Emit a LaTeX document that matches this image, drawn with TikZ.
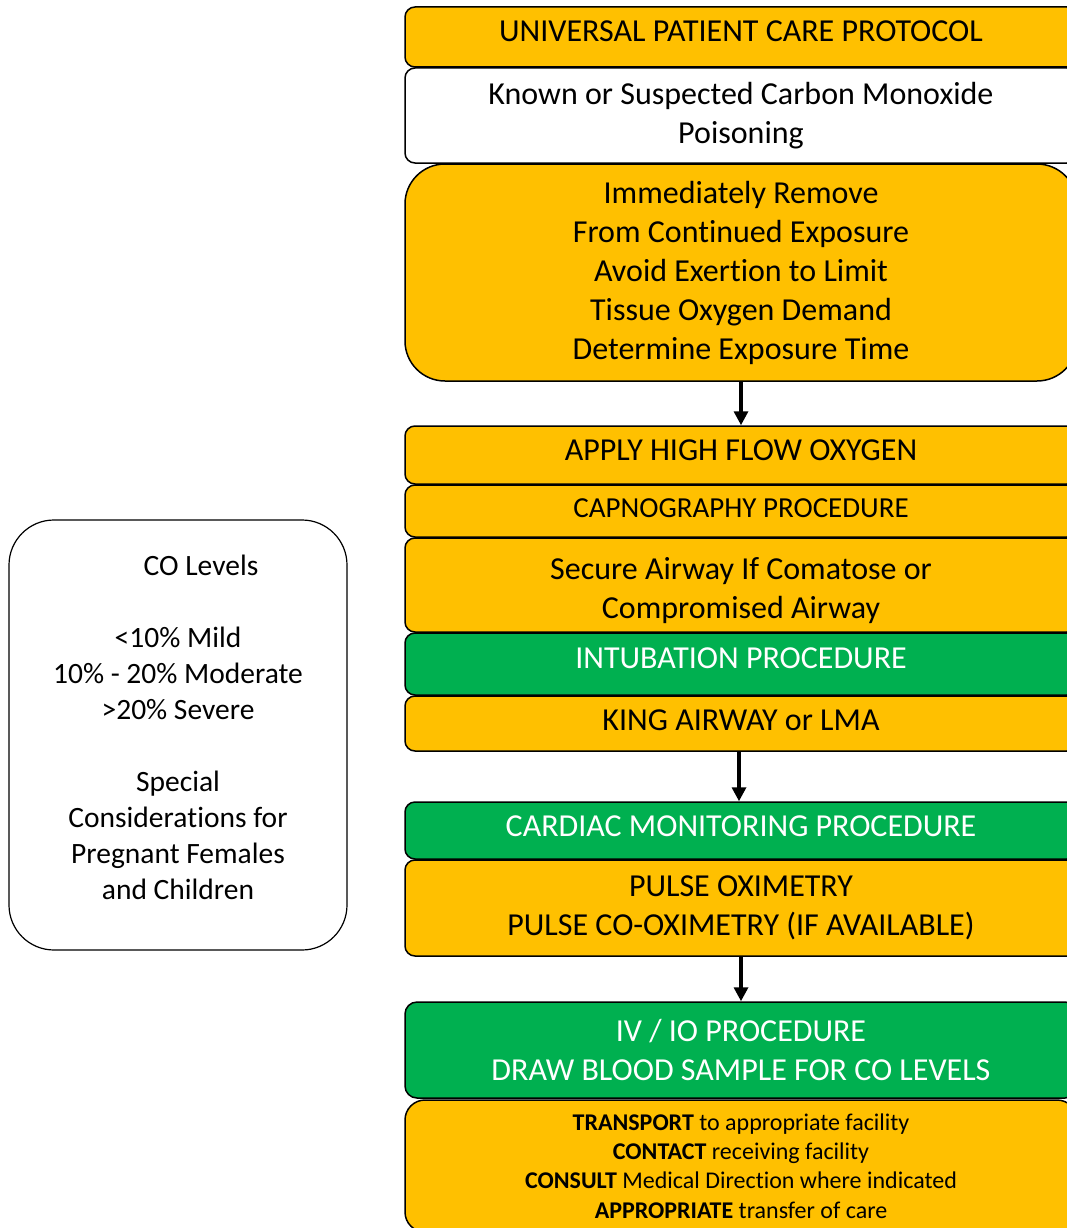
\documentclass[tikz,border=0pt]{standalone}
\usepackage{fontspec}
\setmainfont[RawFeature={-liga;-clig;-rlig;-dlig}]{Carlito}
\usetikzlibrary{arrows.meta}
\definecolor{gold}{HTML}{FFC000}
\definecolor{grn}{HTML}{00B050}
\newcommand{\nl}{\kern0pt }
\tikzset{
  box/.style={draw=black, line width=1.5pt, rounded corners=10pt, minimum width=672pt, align=center, inner sep=0pt, text=black},
  gbox/.style={box, fill=gold},
  wbox/.style={box, fill=white},
  grbox/.style={box, fill=grn, text=white},
  big/.style={font=\fontsize{32}{39}\selectfont},
  mid/.style={font=\fontsize{29}{35}\selectfont},
  small/.style={font=\fontsize{24}{29.3}\selectfont},
  flow/.style={line width=3.3pt, -{Triangle[length=14pt,width=14pt]}},
}
\begin{document}
\begin{tikzpicture}[x=1pt,y=-1pt]
\useasboundingbox (0,0) rectangle (1066,1228);
\node[gbox, big, minimum height=60pt] (upc) at (741,37) {\raisebox{12pt}{UNIVERSAL PATIENT CARE PROTOCOL}};
\node[wbox, big, minimum height=95pt] (known) at (741,115.5) {Known or Suspected Carbon Monoxide\\Poisoning};
\node[gbox, big, minimum height=217pt, rounded corners=40pt] (remove) at (741,272.5) {Immediately Remove\\From Cont\nl inued Exposure\\Avoid Exert\nl ion to Limit\\Tissue Oxygen Demand\\Determine Exposure Time};
\node[gbox, big, minimum height=58pt] (oxy) at (741,455) {\raisebox{10pt}{APPLY HIGH FLOW OXYGEN}};
\node[gbox, mid, minimum height=52pt] (capno) at (741,511) {\raisebox{6pt}{CAPNOGRAPHY PROCEDURE}};
\node[gbox, minimum height=94pt] (secure) at (741,585) {};
\node[big, align=center, inner sep=0pt] (securetext) at (741,591) {Secure Airway If Comatose or\\Compromised Airway};
\node[grbox, big, minimum height=62pt] (intub) at (741,664) {\raisebox{12pt}{INTUBATION PROCEDURE}};
\node[gbox, big, minimum height=55pt] (king) at (741,723.5) {\raisebox{6pt}{KING AIRWAY or LMA}};
\node[grbox, big, minimum height=57pt] (card) at (741,830.5) {\raisebox{8pt}{CARDIAC MONITORING PROCEDURE}};
\node[gbox, big, minimum height=96pt] (pulse) at (741,908) {PULSE OXIMETRY\\PULSE CO-OXIMETRY (IF AVAILABLE)};
\node[grbox, big, minimum height=96pt, rounded corners=12pt] (iv) at (741,1050) {IV / IO PROCEDURE\\DRAW BLOOD SAMPLE FOR CO LEVELS};
\node[gbox, small, minimum height=132pt, rounded corners=20pt] (trans) at (741,1166) {\textbf{TRANSPORT} to appropriate facility\\\textbf{CONTACT} receiving facility\\\textbf{CONSULT} Medical Direction where indicated\\\textbf{APPROPRIATE} transfer of care};
\node[draw=black, line width=1.2pt, rounded corners=45pt, minimum width=338pt, minimum height=430pt] (co) at (178,735) {};
\node[align=center, inner sep=0pt, font=\fontsize{29.5}{36}\selectfont] (cotext) at (178,727) {\hspace*{46pt}CO Levels\\[36pt]<10\% Mild\\10\% - 20\% Moderate\\>20\% Severe\\[36pt]Special\\Considera\nl t\nl ions for\\Pregnant Females\\and Children};
\draw[flow] (remove.south) -- (oxy.north);
\draw[flow] ([xshift=-2pt]king.south) -- ([xshift=-2pt]card.north);
\draw[flow] (pulse.south) -- (iv.north);
\end{tikzpicture}
\end{document}
